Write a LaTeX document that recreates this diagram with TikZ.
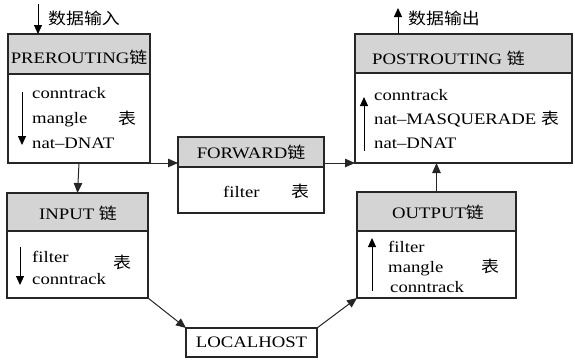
\documentclass[tikz,border=0pt]{standalone}
\usepackage{fontspec}
\setmainfont[FakeStretch=1.17]{Liberation Serif}
\newfontfamily\cjk[FakeStretch=1.12]{Noto Sans CJK SC}
\usetikzlibrary{arrows.meta,calc}
\begin{document}
\begin{tikzpicture}[x=1pt,y=-1pt,
  font=\fontsize{16}{18}\selectfont,
  box/.style={draw=black!85,line width=1.1pt,inner sep=0pt,outer sep=0pt},
  head/.style={box,fill=black!17},
  lbl/.style={inner sep=0pt,anchor=base west},
  arr/.style={line width=1pt,-{Triangle[length=9pt,width=8pt]}},
  flow/.style={line width=1pt,draw=black!85,-{Triangle[length=10pt,width=8.5pt]}}]
\useasboundingbox (0,0) rectangle (575,359);

% PREROUTING chain
\node[head,minimum width=142pt,minimum height=40pt] (preh) at (79,54) {};
\node[box,minimum width=142pt,minimum height=89pt,anchor=north] (preb) at (preh.south) {};
\node[inner sep=0pt] (pret) at (79,57) {PREROUTING{\cjk 链}};
\node[lbl] (pre1) at (32,98) {conntrack};
\node[lbl] (pre2) at (32,123) {mangle};
\node[lbl] (pre3) at (32,148) {nat--DNAT};
\node[inner sep=0pt] (pre4) at (127,118) {\cjk 表};
\draw[arr] (22,92) -- (22,145);

% FORWARD chain
\node[head,minimum width=146pt,minimum height=30pt] (fwdh) at (251,152) {};
\node[box,minimum width=146pt,minimum height=46pt,anchor=north] (fwdb) at (fwdh.south) {};
\node[inner sep=0pt] (fwdt) at (251,152) {FORWARD{\cjk 链}};
\node[lbl] (fwd1) at (223,197) {filter};
\node[inner sep=0pt] (fwd2) at (300,191) {\cjk 表};

% POSTROUTING chain
\node[head,minimum width=217pt,minimum height=39pt] (posth) at (463.5,53.5) {};
\node[box,minimum width=217pt,minimum height=90pt,anchor=north] (postb) at (posth.south) {};
\node[inner sep=0pt,anchor=west] (postt) at (372,58) {POSTROUTING {\cjk 链}};
\node[lbl] (post1) at (374,100) {conntrack};
\node[lbl] (post2) at (374,124) {nat--MASQUERADE {\cjk 表}};
\node[lbl] (post3) at (374,148) {nat--DNAT};
\draw[arr] (364,151) -- (364,97);

% INPUT chain
\node[head,minimum width=141pt,minimum height=38pt] (inh) at (77.5,212) {};
\node[box,minimum width=141pt,minimum height=67pt,anchor=north] (inb) at (inh.south) {};
\node[inner sep=0pt] (intt) at (78,213) {INPUT {\cjk 链}};
\node[lbl] (in1) at (32,262) {filter};
\node[lbl] (in2) at (32,284) {conntrack};
\node[inner sep=0pt] (in3) at (122,262) {\cjk 表};
\draw[arr] (20,247) -- (20,285);

% OUTPUT chain
\node[head,minimum width=159pt,minimum height=39pt] (outh) at (436.5,211.5) {};
\node[box,minimum width=159pt,minimum height=67pt,anchor=north] (outb) at (outh.south) {};
\node[inner sep=0pt] (outt) at (438,212) {OUTPUT{\cjk 链}};
\node[lbl] (out1) at (388,252) {filter};
\node[lbl] (out2) at (388,272) {mangle};
\node[lbl] (out3) at (390,292) {conntrack};
\node[inner sep=0pt] (out4) at (490,266) {\cjk 表};
\draw[arr] (372,291) -- (372,238);

% LOCALHOST
\node[box,minimum width=131pt,minimum height=29pt] (loc) at (251.5,342.5) {LOCALHOST};

% data in / data out
\coordinate (inTop) at (38,4);
\draw[arr] (inTop) -- (inTop |- preh.north);
\node[inner sep=0pt,anchor=west] (inTxt) at (48,18) {\cjk 数据输入};
\coordinate (outTop) at (398,8);
\draw[arr] (outTop |- posth.north) -- (outTop);
\node[inner sep=0pt,anchor=west] (outTxt) at (408,18) {\cjk 数据输出};

% packet flow between chains
\draw[flow] (preb.south east) -- (fwdh.west |- preb.south east);
\draw[flow] (fwdh.east |- postb.south west) -- (postb.south west);
\draw[flow] (preb.south) -- (inh.north);
\draw[flow] (inb.south east) -- (loc.north west);
\draw[flow] (loc.north east) -- (outb.south west);
\draw[flow] (outh.north) -- (outh.north |- postb.south);
\end{tikzpicture}
\end{document}
